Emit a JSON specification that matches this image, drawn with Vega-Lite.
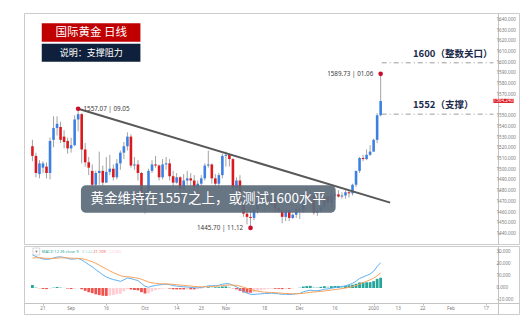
{
  "$schema": "https://vega.github.io/schema/vega-lite/v6.json",
  "background": "white",
  "padding": {"left": 23, "top": 12, "right": 0, "bottom": 0},
  "spacing": 0,
  "config": {
    "view": {"stroke": "#cccccc", "strokeWidth": 1},
    "font": "Noto Sans"
  },
  "resolve": {"scale": {"x": "independent", "y": "independent", "color": "independent"}},
  "datasets": {
    "candles": [
      {"i":0,"date":"2019-08-16","open":1522,"high":1528,"low":1508,"close":1513,"macd":27.5,"signal":25.0,"hist":2.5},
      {"i":1,"date":"2019-08-19","open":1513,"high":1516,"low":1493,"close":1497,"macd":26.2,"signal":25.24,"hist":0.96},
      {"i":2,"date":"2019-08-20","open":1496,"high":1509,"low":1492,"close":1506,"macd":25.0,"signal":25.19,"hist":-0.19},
      {"i":3,"date":"2019-08-21","open":1502,"high":1508,"low":1497,"close":1506,"macd":24.2,"signal":24.99,"hist":-0.79},
      {"i":4,"date":"2019-08-22","open":1503,"high":1507,"low":1492,"close":1497,"macd":23.8,"signal":24.75,"hist":-0.95},
      {"i":5,"date":"2019-08-23","open":1497,"high":1530,"low":1491,"close":1527,"macd":24.2,"signal":24.64,"hist":-0.44},
      {"i":6,"date":"2019-08-26","open":1528,"high":1550,"low":1521,"close":1539,"macd":25.0,"signal":24.71,"hist":0.29},
      {"i":7,"date":"2019-08-27","open":1539,"high":1550,"low":1532,"close":1543,"macd":25.8,"signal":24.93,"hist":0.87},
      {"i":8,"date":"2019-08-28","open":1540,"high":1545,"low":1525,"close":1528,"macd":26.0,"signal":25.14,"hist":0.86},
      {"i":9,"date":"2019-08-29","open":1531,"high":1537,"low":1520,"close":1526,"macd":25.4,"signal":25.19,"hist":0.21},
      {"i":10,"date":"2019-08-30","open":1527,"high":1530,"low":1515,"close":1520,"macd":24.6,"signal":25.07,"hist":-0.47},
      {"i":11,"date":"2019-09-02","open":1520,"high":1530,"low":1516,"close":1523,"macd":24.0,"signal":24.86,"hist":-0.86},
      {"i":12,"date":"2019-09-03","open":1523,"high":1551,"low":1522,"close":1547,"macd":24.2,"signal":24.73,"hist":-0.53},
      {"i":13,"date":"2019-09-04","open":1547,"high":1557.07,"low":1536,"close":1552,"macd":24.6,"signal":24.70,"hist":-0.10},
      {"i":14,"date":"2019-09-05","open":1552,"high":1553,"low":1506,"close":1519,"macd":23.4,"signal":24.44,"hist":-1.04},
      {"i":15,"date":"2019-09-06","open":1519,"high":1525,"low":1503,"close":1507,"macd":21.5,"signal":23.85,"hist":-2.35},
      {"i":16,"date":"2019-09-09","open":1507,"high":1512,"low":1495,"close":1502,"macd":19.5,"signal":22.98,"hist":-3.48},
      {"i":17,"date":"2019-09-10","open":1499,"high":1505,"low":1484,"close":1486,"macd":17.6,"signal":21.90,"hist":-4.30},
      {"i":18,"date":"2019-09-11","open":1486,"high":1499,"low":1484,"close":1497,"macd":15.3,"signal":20.58,"hist":-5.28},
      {"i":19,"date":"2019-09-12","open":1497,"high":1517,"low":1486,"close":1499,"macd":13.2,"signal":19.10,"hist":-5.90},
      {"i":20,"date":"2019-09-13","open":1499,"high":1504,"low":1485,"close":1488,"macd":11.0,"signal":17.48,"hist":-6.48},
      {"i":21,"date":"2019-09-16","open":1488,"high":1512,"low":1488,"close":1498,"macd":9.2,"signal":15.82,"hist":-6.62},
      {"i":22,"date":"2019-09-17","open":1498,"high":1514,"low":1495,"close":1501,"macd":8.0,"signal":14.26,"hist":-6.26},
      {"i":23,"date":"2019-09-18","open":1501,"high":1505,"low":1490,"close":1493,"macd":7.0,"signal":12.81,"hist":-5.81},
      {"i":24,"date":"2019-09-19","open":1493,"high":1510,"low":1491,"close":1506,"macd":6.4,"signal":11.53,"hist":-5.13},
      {"i":25,"date":"2019-09-20","open":1506,"high":1518,"low":1500,"close":1516,"macd":5.5,"signal":10.32,"hist":-4.82},
      {"i":26,"date":"2019-09-23","open":1516,"high":1526,"low":1510,"close":1522,"macd":6.8,"signal":9.62,"hist":-2.82},
      {"i":27,"date":"2019-09-24","open":1522,"high":1535,"low":1518,"close":1531,"macd":8.4,"signal":9.38,"hist":-0.98},
      {"i":28,"date":"2019-09-25","open":1531,"high":1533,"low":1502,"close":1504,"macd":7.8,"signal":9.06,"hist":-1.26},
      {"i":29,"date":"2019-09-26","open":1504,"high":1512,"low":1500,"close":1505,"macd":7.0,"signal":8.65,"hist":-1.65},
      {"i":30,"date":"2019-09-27","open":1505,"high":1509,"low":1490,"close":1497,"macd":6.2,"signal":8.16,"hist":-1.96},
      {"i":31,"date":"2019-09-30","open":1497,"high":1498,"low":1470,"close":1472,"macd":3.8,"signal":7.29,"hist":-3.49},
      {"i":32,"date":"2019-10-01","open":1472,"high":1483,"low":1459,"close":1479,"macd":1.5,"signal":6.13,"hist":-4.63},
      {"i":33,"date":"2019-10-02","open":1479,"high":1501,"low":1476,"close":1499,"macd":0.6,"signal":5.02,"hist":-4.42},
      {"i":34,"date":"2019-10-03","open":1499,"high":1509,"low":1497,"close":1505,"macd":1.5,"signal":4.32,"hist":-2.82},
      {"i":35,"date":"2019-10-04","open":1505,"high":1513,"low":1502,"close":1504,"macd":2.2,"signal":3.90,"hist":-1.70},
      {"i":36,"date":"2019-10-07","open":1504,"high":1505,"low":1490,"close":1493,"macd":2.5,"signal":3.62,"hist":-1.12},
      {"i":37,"date":"2019-10-08","open":1493,"high":1510,"low":1491,"close":1505,"macd":2.9,"signal":3.48,"hist":-0.58},
      {"i":38,"date":"2019-10-09","open":1505,"high":1512,"low":1500,"close":1506,"macd":3.2,"signal":3.42,"hist":-0.22},
      {"i":39,"date":"2019-10-10","open":1506,"high":1510,"low":1490,"close":1494,"macd":2.8,"signal":3.30,"hist":-0.50},
      {"i":40,"date":"2019-10-11","open":1494,"high":1499,"low":1484,"close":1488,"macd":2.0,"signal":3.04,"hist":-1.04},
      {"i":41,"date":"2019-10-14","open":1488,"high":1497,"low":1487,"close":1493,"macd":1.6,"signal":2.75,"hist":-1.15},
      {"i":42,"date":"2019-10-15","open":1493,"high":1494,"low":1475,"close":1482,"macd":1.3,"signal":2.46,"hist":-1.16},
      {"i":43,"date":"2019-10-16","open":1482,"high":1496,"low":1480,"close":1490,"macd":1.0,"signal":2.17,"hist":-1.17},
      {"i":44,"date":"2019-10-17","open":1490,"high":1499,"low":1486,"close":1492,"macd":0.8,"signal":1.90,"hist":-1.10},
      {"i":45,"date":"2019-10-18","open":1492,"high":1497,"low":1485,"close":1490,"macd":0.5,"signal":1.62,"hist":-1.12},
      {"i":46,"date":"2019-10-21","open":1490,"high":1495,"low":1480,"close":1484,"macd":0.2,"signal":1.34,"hist":-1.14},
      {"i":47,"date":"2019-10-22","open":1484,"high":1490,"low":1479,"close":1487,"macd":0.2,"signal":1.11,"hist":-0.91},
      {"i":48,"date":"2019-10-23","open":1487,"high":1495,"low":1485,"close":1492,"macd":0.4,"signal":0.97,"hist":-0.57},
      {"i":49,"date":"2019-10-24","open":1492,"high":1506,"low":1490,"close":1504,"macd":1.0,"signal":0.98,"hist":0.02},
      {"i":50,"date":"2019-10-25","open":1504,"high":1518,"low":1502,"close":1505,"macd":1.8,"signal":1.14,"hist":0.66},
      {"i":51,"date":"2019-10-28","open":1505,"high":1506,"low":1487,"close":1492,"macd":1.8,"signal":1.27,"hist":0.53},
      {"i":52,"date":"2019-10-29","open":1492,"high":1496,"low":1484,"close":1487,"macd":2.0,"signal":1.42,"hist":0.58},
      {"i":53,"date":"2019-10-30","open":1487,"high":1497,"low":1482,"close":1495,"macd":2.3,"signal":1.60,"hist":0.70},
      {"i":54,"date":"2019-10-31","open":1495,"high":1515,"low":1492,"close":1513,"macd":3.2,"signal":1.92,"hist":1.28},
      {"i":55,"date":"2019-11-01","open":1513,"high":1517,"low":1503,"close":1514,"macd":3.6,"signal":2.26,"hist":1.34},
      {"i":56,"date":"2019-11-04","open":1514,"high":1515,"low":1503,"close":1510,"macd":3.5,"signal":2.51,"hist":0.99},
      {"i":57,"date":"2019-11-05","open":1510,"high":1511,"low":1479,"close":1483,"macd":2.2,"signal":2.45,"hist":-0.25},
      {"i":58,"date":"2019-11-06","open":1483,"high":1493,"low":1480,"close":1490,"macd":1.0,"signal":2.16,"hist":-1.16},
      {"i":59,"date":"2019-11-07","open":1490,"high":1495,"low":1463,"close":1467,"macd":-0.8,"signal":1.57,"hist":-2.37},
      {"i":60,"date":"2019-11-08","open":1467,"high":1472,"low":1456,"close":1459,"macd":-3.0,"signal":0.66,"hist":-3.66},
      {"i":61,"date":"2019-11-11","open":1459,"high":1462,"low":1449,"close":1456,"macd":-4.2,"signal":-0.31,"hist":-3.89},
      {"i":62,"date":"2019-11-12","open":1456,"high":1466,"low":1445.7,"close":1455,"macd":-5.2,"signal":-1.29,"hist":-3.91},
      {"i":63,"date":"2019-11-13","open":1455,"high":1468,"low":1453,"close":1463,"macd":-5.4,"signal":-2.11,"hist":-3.29},
      {"i":64,"date":"2019-11-14","open":1463,"high":1474,"low":1459,"close":1471,"macd":-5.0,"signal":-2.69,"hist":-2.31},
      {"i":65,"date":"2019-11-15","open":1471,"high":1474,"low":1463,"close":1468,"macd":-4.9,"signal":-3.13,"hist":-1.77},
      {"i":66,"date":"2019-11-18","open":1468,"high":1474,"low":1461,"close":1472,"macd":-4.6,"signal":-3.42,"hist":-1.18},
      {"i":67,"date":"2019-11-19","open":1472,"high":1475,"low":1463,"close":1471,"macd":-4.5,"signal":-3.64,"hist":-0.86},
      {"i":68,"date":"2019-11-20","open":1471,"high":1478,"low":1466,"close":1473,"macd":-4.3,"signal":-3.77,"hist":-0.53},
      {"i":69,"date":"2019-11-21","open":1473,"high":1477,"low":1460,"close":1464,"macd":-4.6,"signal":-3.94,"hist":-0.66},
      {"i":70,"date":"2019-11-22","open":1464,"high":1469,"low":1460,"close":1462,"macd":-4.8,"signal":-4.11,"hist":-0.69},
      {"i":71,"date":"2019-11-25","open":1462,"high":1463,"low":1450,"close":1456,"macd":-5.3,"signal":-4.35,"hist":-0.95},
      {"i":72,"date":"2019-11-26","open":1456,"high":1463,"low":1452,"close":1462,"macd":-5.2,"signal":-4.52,"hist":-0.68},
      {"i":73,"date":"2019-11-27","open":1462,"high":1463,"low":1452,"close":1455,"macd":-5.4,"signal":-4.70,"hist":-0.70},
      {"i":74,"date":"2019-11-28","open":1455,"high":1459,"low":1454,"close":1458,"macd":-5.2,"signal":-4.80,"hist":-0.40},
      {"i":75,"date":"2019-11-29","open":1458,"high":1466,"low":1455,"close":1463,"macd":-4.8,"signal":-4.80,"hist":0.0},
      {"i":76,"date":"2019-12-02","open":1463,"high":1465,"low":1454,"close":1462,"macd":-4.5,"signal":-4.74,"hist":0.24},
      {"i":77,"date":"2019-12-03","open":1462,"high":1478,"low":1460,"close":1477,"macd":-3.2,"signal":-4.43,"hist":1.23},
      {"i":78,"date":"2019-12-04","open":1477,"high":1484,"low":1472,"close":1474,"macd":-2.4,"signal":-4.02,"hist":1.62},
      {"i":79,"date":"2019-12-05","open":1474,"high":1481,"low":1472,"close":1476,"macd":-1.8,"signal":-3.58,"hist":1.78},
      {"i":80,"date":"2019-12-06","open":1476,"high":1477,"low":1458,"close":1460,"macd":-2.3,"signal":-3.32,"hist":1.02},
      {"i":81,"date":"2019-12-09","open":1460,"high":1465,"low":1457,"close":1462,"macd":-2.2,"signal":-3.10,"hist":0.90},
      {"i":82,"date":"2019-12-10","open":1462,"high":1467,"low":1460,"close":1465,"macd":-1.9,"signal":-2.86,"hist":0.96},
      {"i":83,"date":"2019-12-11","open":1465,"high":1476,"low":1462,"close":1475,"macd":-1.0,"signal":-2.49,"hist":1.49},
      {"i":84,"date":"2019-12-12","open":1475,"high":1476,"low":1462,"close":1469,"macd":-0.8,"signal":-2.15,"hist":1.35},
      {"i":85,"date":"2019-12-13","open":1469,"high":1482,"low":1464,"close":1476,"macd":-0.2,"signal":-1.76,"hist":1.56},
      {"i":86,"date":"2019-12-16","open":1476,"high":1479,"low":1472,"close":1477,"macd":0.3,"signal":-1.35,"hist":1.65},
      {"i":87,"date":"2019-12-17","open":1477,"high":1481,"low":1474,"close":1475,"macd":0.8,"signal":-0.92,"hist":1.72},
      {"i":88,"date":"2019-12-18","open":1475,"high":1479,"low":1473,"close":1476,"macd":1.2,"signal":-0.50,"hist":1.70},
      {"i":89,"date":"2019-12-19","open":1476,"high":1481,"low":1473,"close":1479,"macd":1.8,"signal":-0.04,"hist":1.84},
      {"i":90,"date":"2019-12-20","open":1479,"high":1481,"low":1474,"close":1478,"macd":2.8,"signal":0.53,"hist":2.27},
      {"i":91,"date":"2019-12-23","open":1478,"high":1487,"low":1476,"close":1486,"macd":3.9,"signal":1.20,"hist":2.70},
      {"i":92,"date":"2019-12-24","open":1486,"high":1499,"low":1484,"close":1499,"macd":5.6,"signal":2.08,"hist":3.52},
      {"i":93,"date":"2019-12-26","open":1499,"high":1512,"low":1497,"close":1511,"macd":7.9,"signal":3.24,"hist":4.66},
      {"i":94,"date":"2019-12-27","open":1511,"high":1514,"low":1508,"close":1510,"macd":9.2,"signal":4.43,"hist":4.77},
      {"i":95,"date":"2019-12-30","open":1510,"high":1519,"low":1509,"close":1514,"macd":10.4,"signal":5.62,"hist":4.78},
      {"i":96,"date":"2019-12-31","open":1514,"high":1523,"low":1513,"close":1517,"macd":11.7,"signal":6.84,"hist":4.86},
      {"i":97,"date":"2020-01-02","open":1517,"high":1529,"low":1517,"close":1528,"macd":14.0,"signal":8.27,"hist":5.73},
      {"i":98,"date":"2020-01-03","open":1528,"high":1553,"low":1525,"close":1551,"macd":17.8,"signal":10.18,"hist":7.62},
      {"i":99,"date":"2020-01-06","open":1551,"high":1589.73,"low":1550,"close":1564.24,"macd":21.109,"signal":12.565,"hist":8.544}
    ],
    "trend": [{"i":13,"p":1557.07},{"i":101.7,"p":1469.3}],
    "levels": [{"i1":99.3,"i2":131.06,"p":1600},{"i1":99.3,"i2":131.06,"p":1552}],
    "extremes": [{"i":13,"p":1557.07},{"i":99,"p":1589.73},{"i":62,"p":1445.7}],
    "boxes": [
      {"kind":"title","i1":2.65,"i2":30.7,"p1":1619.7,"p2":1636.9},
      {"kind":"subtitle","i1":2.65,"i2":30.7,"p1":1601.0,"p2":1617.9},
      {"kind":"caption","i1":13.79,"i2":86.2,"p1":1459.9,"p2":1485.5},
      {"kind":"tag","i1":131.06,"i2":136.8,"p1":1562.5,"p2":1566.4}
    ],
    "notes": [
      {"kind":"ext-left","i":14.5,"p":1557.1,"text":"1557.07 | 09.05"},
      {"kind":"ext-right","i":96.9,"p":1589.3,"text":"1589.73 | 01.06"},
      {"kind":"ext-right","i":59.9,"p":1445.3,"text":"1445.70 | 11.12"},
      {"kind":"level","i":108.2,"p":1608,"text":"1600（整数关口）"},
      {"kind":"level","i":108.2,"p":1560.6,"text":"1552（支撑）"},
      {"kind":"caption","i":50.0,"p":1472.7,"text":"黄金维持在1557之上，或测试1600水平"},
      {"kind":"title","i":16.7,"p":1628.3,"text":"国际黄金 日线"},
      {"kind":"subtitle","i":16.7,"p":1609.4,"text":"说明：支撑阻力"},
      {"kind":"tag","i":133.9,"p":1564.4,"text":"1564.240"}
    ],
    "priceticks": [
      {"i":131.9,"p":1440,"label":"1440.000"},{"i":131.9,"p":1450,"label":"1450.000"},{"i":131.9,"p":1460,"label":"1460.000"},
      {"i":131.9,"p":1470,"label":"1470.000"},{"i":131.9,"p":1480,"label":"1480.000"},{"i":131.9,"p":1490,"label":"1490.000"},
      {"i":131.9,"p":1500,"label":"1500.000"},{"i":131.9,"p":1510,"label":"1510.000"},{"i":131.9,"p":1520,"label":"1520.000"},
      {"i":131.9,"p":1530,"label":"1530.000"},{"i":131.9,"p":1540,"label":"1540.000"},{"i":131.9,"p":1550,"label":"1550.000"},
      {"i":131.9,"p":1570,"label":"1570.000"},{"i":131.9,"p":1580,"label":"1580.000"},{"i":131.9,"p":1590,"label":"1590.000"},
      {"i":131.9,"p":1600,"label":"1600.000"},{"i":131.9,"p":1610,"label":"1610.000"},{"i":131.9,"p":1620,"label":"1620.000"},
      {"i":131.9,"p":1630,"label":"1630.000"},{"i":131.9,"p":1640,"label":"1640.000"}
    ],
    "macdticks": [
      {"i":131.9,"v":30,"label":"30.000"},{"i":131.9,"v":20,"label":"20.000"},{"i":131.9,"v":10,"label":"10.000"},
      {"i":131.9,"v":0,"label":"0.000"},{"i":131.9,"v":-10,"label":"−10.000"}
    ],
    "dateticks": [
      {"i":3,"v":-17.1,"label":"21"},{"i":11,"v":-17.1,"label":"Sep"},{"i":21,"v":-17.1,"label":"16"},
      {"i":32,"v":-17.1,"label":"Oct"},{"i":41,"v":-17.1,"label":"14"},{"i":48,"v":-17.1,"label":"23"},
      {"i":55,"v":-17.1,"label":"Nov"},{"i":66,"v":-17.1,"label":"18"},{"i":76,"v":-17.1,"label":"Dec"},
      {"i":86,"v":-17.1,"label":"16"},{"i":97,"v":-17.1,"label":"2020"},{"i":104,"v":-17.1,"label":"13"},
      {"i":111,"v":-17.1,"label":"22"},{"i":119,"v":-17.1,"label":"Feb"},{"i":129,"v":-17.1,"label":"17"}
    ],
    "macdlegend": [
      {"kind":"name","i":2.65,"v":30.25,"text":"MACD 12 26 close 9"},
      {"kind":"hist","i":14.1,"v":30.25,"text":"8.544"},
      {"kind":"macd","i":17.3,"v":30.25,"text":"21.109"},
      {"kind":"signal","i":21.7,"v":30.25,"text":"12.565"}
    ],
    "macdbox": [{"i1":0.14,"i2":2.09,"v1":27.5,"v2":33.3,"text":"▾","i":1.12,"v":30.4}]
  },
  "vconcat": [
    {
      "width": 495,
      "height": 231,
      "layer": [
        {
          "data": {"name": "candles"},
          "mark": {"type": "rule", "color": "#a3a3a3", "strokeWidth": 1},
          "encoding": {
            "x": {"field": "i", "type": "quantitative", "scale": {"domain": [-0.975, 136.91], "nice": false, "zero": false}, "axis": null},
            "y": {"field": "low", "type": "quantitative", "scale": {"domain": [1430.65, 1646.54], "nice": false, "zero": false},
              "axis": {"orient": "right", "offset": -21, "values": [1440,1450,1460,1470,1480,1490,1500,1510,1520,1530,1540,1550,1560,1570,1580,1590,1600,1610,1620,1630,1640],
                "labels": false, "tickSize": 2, "tickColor": "#bdbdbd", "domainColor": "#c4c4c4", "title": null, "grid": false}},
            "y2": {"field": "high"}
          }
        },
        {
          "data": {"name": "candles"},
          "mark": {"type": "bar", "width": 2.6},
          "encoding": {
            "x": {"field": "i", "type": "quantitative"},
            "y": {"field": "open", "type": "quantitative"},
            "y2": {"field": "close"},
            "color": {"condition": {"test": "datum.close >= datum.open", "value": "#3d80e3"}, "value": "#d91a1e"}
          }
        },
        {
          "data": {"name": "trend"},
          "mark": {"type": "line", "color": "#585858", "strokeWidth": 2},
          "encoding": {"x": {"field": "i", "type": "quantitative"}, "y": {"field": "p", "type": "quantitative"}}
        },
        {
          "data": {"name": "levels"},
          "mark": {"type": "rule", "color": "#9c9c9c", "strokeWidth": 1, "strokeDash": [5, 3, 1, 3]},
          "encoding": {"x": {"field": "i1", "type": "quantitative"}, "x2": {"field": "i2"}, "y": {"field": "p", "type": "quantitative"}}
        },
        {
          "data": {"name": "extremes"},
          "mark": {"type": "point", "filled": true, "color": "#c8102e", "size": 22, "opacity": 1},
          "encoding": {"x": {"field": "i", "type": "quantitative"}, "y": {"field": "p", "type": "quantitative"}}
        },
        {
          "data": {"name": "boxes"},
          "transform": [{"filter": "datum.kind === 'title'"}],
          "mark": {"type": "rect", "color": "#c00000"},
          "encoding": {"x": {"field": "i1", "type": "quantitative"}, "x2": {"field": "i2"}, "y": {"field": "p1", "type": "quantitative"}, "y2": {"field": "p2"}}
        },
        {
          "data": {"name": "boxes"},
          "transform": [{"filter": "datum.kind === 'subtitle'"}],
          "mark": {"type": "rect", "color": "#0e203b"},
          "encoding": {"x": {"field": "i1", "type": "quantitative"}, "x2": {"field": "i2"}, "y": {"field": "p1", "type": "quantitative"}, "y2": {"field": "p2"}}
        },
        {
          "data": {"name": "boxes"},
          "transform": [{"filter": "datum.kind === 'caption'"}],
          "mark": {"type": "rect", "color": "#5d6a7a", "opacity": 0.93, "cornerRadius": 5},
          "encoding": {"x": {"field": "i1", "type": "quantitative"}, "x2": {"field": "i2"}, "y": {"field": "p1", "type": "quantitative"}, "y2": {"field": "p2"}}
        },
        {
          "data": {"name": "boxes"},
          "transform": [{"filter": "datum.kind === 'tag'"}],
          "mark": {"type": "rect", "color": "#e0141b"},
          "encoding": {"x": {"field": "i1", "type": "quantitative"}, "x2": {"field": "i2"}, "y": {"field": "p1", "type": "quantitative"}, "y2": {"field": "p2"}}
        },
        {
          "data": {"name": "priceticks"},
          "mark": {"type": "text", "align": "left", "baseline": "middle", "fontSize": 4.6, "color": "#7a7a7a", "font": "Noto Sans"},
          "encoding": {"x": {"field": "i", "type": "quantitative"}, "y": {"field": "p", "type": "quantitative"}, "text": {"field": "label"}}
        },
        {
          "data": {"name": "notes"},
          "transform": [{"filter": "datum.kind === 'ext-left'"}],
          "mark": {"type": "text", "align": "left", "baseline": "middle", "fontSize": 6.3, "color": "#3a3a3a", "font": "Noto Sans"},
          "encoding": {"x": {"field": "i", "type": "quantitative"}, "y": {"field": "p", "type": "quantitative"}, "text": {"field": "text"}}
        },
        {
          "data": {"name": "notes"},
          "transform": [{"filter": "datum.kind === 'ext-right'"}],
          "mark": {"type": "text", "align": "right", "baseline": "middle", "fontSize": 6.3, "color": "#3a3a3a", "font": "Noto Sans"},
          "encoding": {"x": {"field": "i", "type": "quantitative"}, "y": {"field": "p", "type": "quantitative"}, "text": {"field": "text"}}
        },
        {
          "data": {"name": "notes"},
          "transform": [{"filter": "datum.kind === 'level'"}],
          "mark": {"type": "text", "align": "left", "baseline": "middle", "fontSize": 9.5, "fontWeight": "bold", "color": "#1b2a4a", "font": "Noto Sans CJK SC"},
          "encoding": {"x": {"field": "i", "type": "quantitative"}, "y": {"field": "p", "type": "quantitative"}, "text": {"field": "text"}}
        },
        {
          "data": {"name": "notes"},
          "transform": [{"filter": "datum.kind === 'caption'"}],
          "mark": {"type": "text", "align": "center", "baseline": "middle", "fontSize": 13.5, "color": "white", "font": "Noto Sans CJK SC"},
          "encoding": {"x": {"field": "i", "type": "quantitative"}, "y": {"field": "p", "type": "quantitative"}, "text": {"field": "text"}}
        },
        {
          "data": {"name": "notes"},
          "transform": [{"filter": "datum.kind === 'title'"}],
          "mark": {"type": "text", "align": "center", "baseline": "middle", "fontSize": 11.5, "color": "white", "font": "Noto Sans CJK SC"},
          "encoding": {"x": {"field": "i", "type": "quantitative"}, "y": {"field": "p", "type": "quantitative"}, "text": {"field": "text"}}
        },
        {
          "data": {"name": "notes"},
          "transform": [{"filter": "datum.kind === 'subtitle'"}],
          "mark": {"type": "text", "align": "center", "baseline": "middle", "fontSize": 9, "color": "white", "font": "Noto Sans CJK SC"},
          "encoding": {"x": {"field": "i", "type": "quantitative"}, "y": {"field": "p", "type": "quantitative"}, "text": {"field": "text"}}
        },
        {
          "data": {"name": "notes"},
          "transform": [{"filter": "datum.kind === 'tag'"}],
          "mark": {"type": "text", "align": "center", "baseline": "middle", "fontSize": 4.6, "color": "white", "font": "Noto Sans"},
          "encoding": {"x": {"field": "i", "type": "quantitative"}, "y": {"field": "p", "type": "quantitative"}, "text": {"field": "text"}}
        }
      ]
    },
    {
      "width": 495,
      "height": 68,
      "layer": [
        {
          "data": {"name": "candles"},
          "transform": [
            {"window": [{"op": "lag", "field": "hist", "as": "prev"}], "sort": [{"field": "i", "order": "ascending"}]},
            {"calculate": "datum.hist >= 0 ? (datum.prev == null || datum.hist >= datum.prev ? 'pu' : 'pd') : (datum.hist <= datum.prev ? 'nd' : 'nu')", "as": "phase"}
          ],
          "mark": {"type": "bar", "width": 2.8},
          "encoding": {
            "x": {"field": "i", "type": "quantitative", "scale": {"domain": [-0.975, 136.91], "nice": false, "zero": false},
              "axis": {"orient": "bottom", "offset": -11, "values": [3,11,21,32,41,48,55,66,76,86,97,104,111,119,129],
                "labels": false, "tickSize": 2, "tickColor": "#bdbdbd", "domainColor": "#c4c4c4", "title": null, "grid": false}},
            "y": {"field": "hist", "type": "quantitative", "scale": {"domain": [-21.67, 35], "nice": false, "zero": false},
              "axis": {"orient": "right", "offset": -21, "values": [-10, 0, 10, 20, 30], "labels": false,
                "tickSize": 2, "tickColor": "#bdbdbd", "domainColor": "#c4c4c4", "title": null, "grid": false}},
            "y2": {"datum": 0},
            "color": {"field": "phase", "type": "nominal", "scale": {"domain": ["pu", "pd", "nd", "nu"], "range": ["#26a69a", "#b2dfdb", "#ef5350", "#ffcdd2"]}, "legend": null}
          }
        },
        {
          "data": {"name": "candles"},
          "mark": {"type": "line", "color": "#5fb0f2", "strokeWidth": 1},
          "encoding": {"x": {"field": "i", "type": "quantitative"}, "y": {"field": "macd", "type": "quantitative"}}
        },
        {
          "data": {"name": "candles"},
          "mark": {"type": "line", "color": "#f9a25b", "strokeWidth": 1},
          "encoding": {"x": {"field": "i", "type": "quantitative"}, "y": {"field": "signal", "type": "quantitative"}}
        },
        {
          "data": {"name": "macdticks"},
          "mark": {"type": "text", "align": "left", "baseline": "middle", "fontSize": 4.6, "color": "#7a7a7a", "font": "Noto Sans"},
          "encoding": {"x": {"field": "i", "type": "quantitative"}, "y": {"field": "v", "type": "quantitative"}, "text": {"field": "label"}}
        },
        {
          "data": {"name": "dateticks"},
          "mark": {"type": "text", "align": "center", "baseline": "middle", "fontSize": 4.6, "color": "#7a7a7a", "font": "Noto Sans"},
          "encoding": {"x": {"field": "i", "type": "quantitative"}, "y": {"field": "v", "type": "quantitative"}, "text": {"field": "label"}}
        },
        {
          "data": {"name": "macdbox"},
          "mark": {"type": "rect", "fill": "white", "stroke": "#bdbdbd", "strokeWidth": 0.6},
          "encoding": {"x": {"field": "i1", "type": "quantitative"}, "x2": {"field": "i2"}, "y": {"field": "v1", "type": "quantitative"}, "y2": {"field": "v2"}}
        },
        {
          "data": {"name": "macdbox"},
          "mark": {"type": "text", "align": "center", "baseline": "middle", "fontSize": 4.5, "color": "#777777", "font": "DejaVu Sans"},
          "encoding": {"x": {"field": "i", "type": "quantitative"}, "y": {"field": "v", "type": "quantitative"}, "text": {"field": "text"}}
        },
        {
          "data": {"name": "macdlegend"},
          "mark": {"type": "text", "align": "left", "baseline": "middle", "fontSize": 4.0, "font": "Noto Sans"},
          "encoding": {
            "x": {"field": "i", "type": "quantitative"},
            "y": {"field": "v", "type": "quantitative"},
            "text": {"field": "text"},
            "color": {"field": "kind", "type": "nominal", "scale": {"domain": ["name", "hist", "macd", "signal"], "range": ["#787878", "#26a69a", "#42a5f5", "#ff9c4a"]}, "legend": null}
          }
        }
      ]
    }
  ]
}
